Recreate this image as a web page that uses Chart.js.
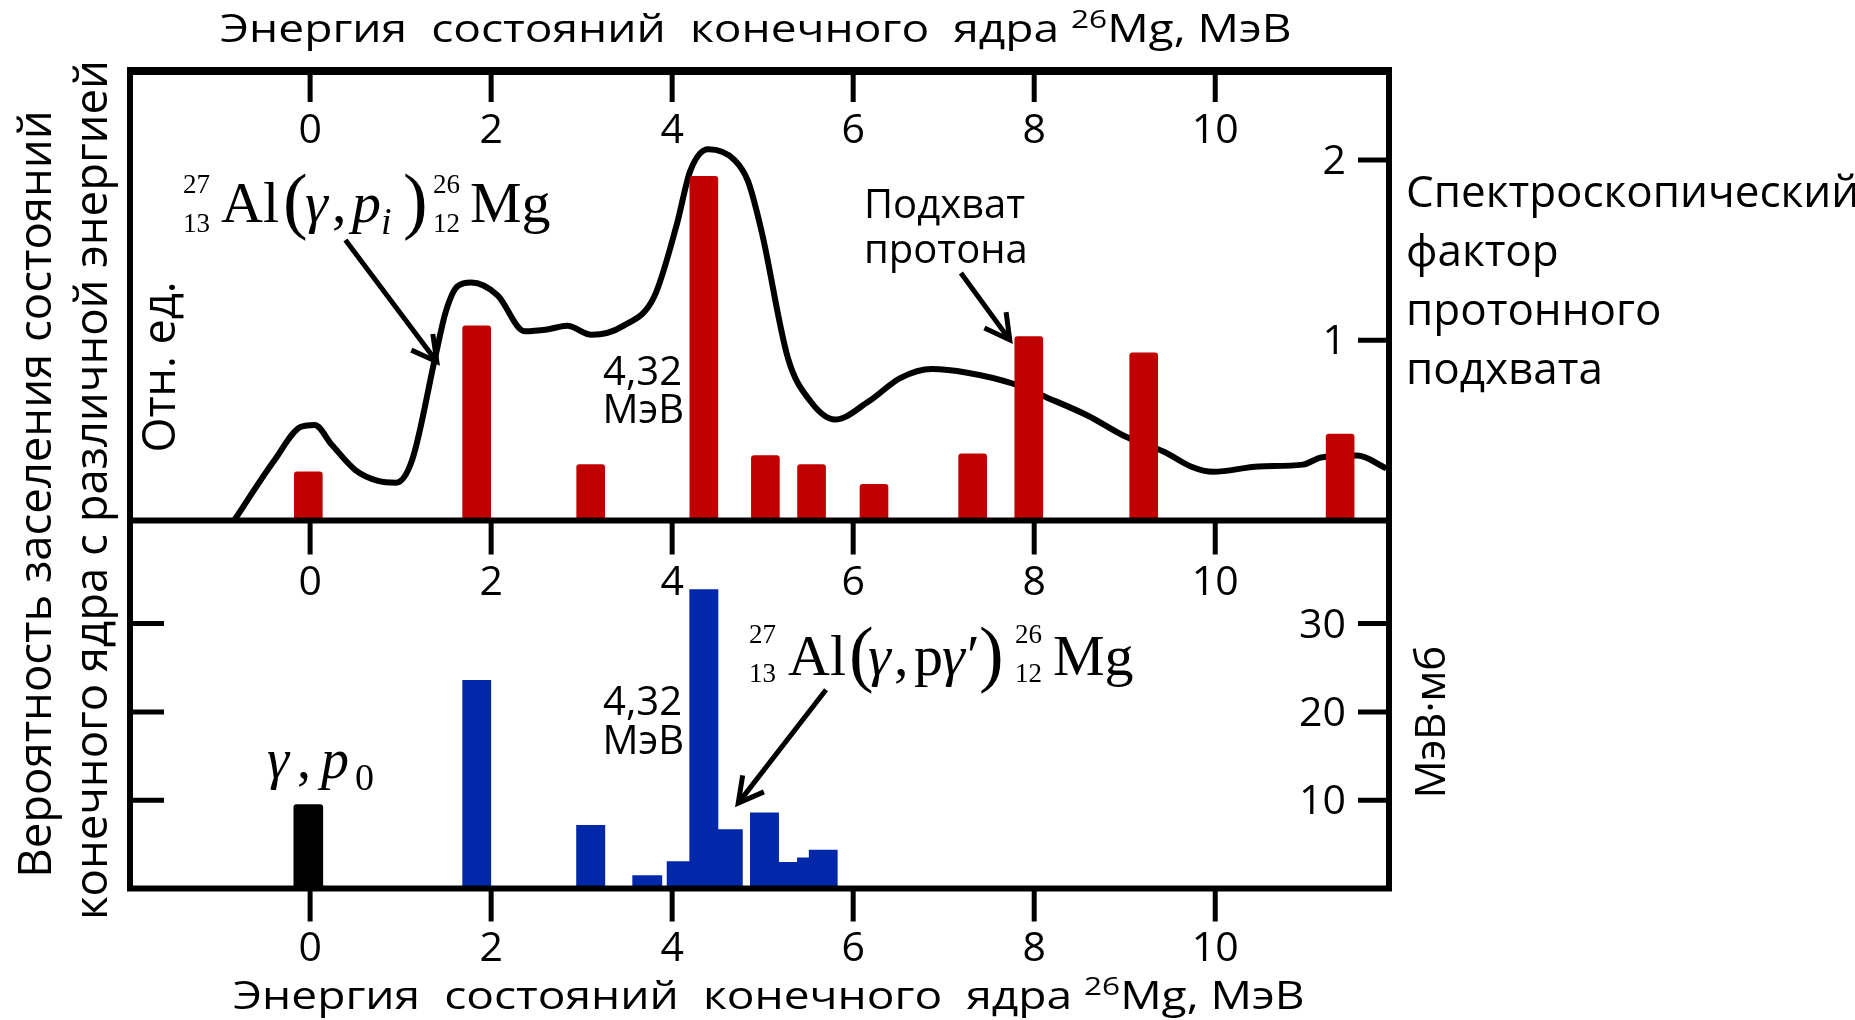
<!DOCTYPE html>
<html><head><meta charset="utf-8">
<script src="https://cdn.jsdelivr.net/npm/chart.js@4.4.0/dist/chart.umd.min.js"></script>
<style>html,body{margin:0;padding:0;background:#fff;overflow:hidden}
#wrap{position:relative;width:1855px;height:1020px}
canvas{position:absolute;left:0;top:0}</style></head>
<body><div id="wrap"><canvas id="c" width="1855" height="1020"></canvas></div>
<script>
// ---------------- data ----------------
const xTickValues = [0, 2, 4, 6, 8, 10];
const topYTickValues = [1, 2];
const bottomYTickValues = [10, 20, 30];

// spectroscopic factor of proton pickup (red bars), energy in MeV
const redEnergies = [-0.02, 1.84, 3.10, 4.35, 5.03, 5.54, 6.23, 7.32, 7.94, 9.21, 11.38];
const redFactors  = [0.27, 1.08, 0.31, 1.91, 0.36, 0.31, 0.20, 0.37, 1.02, 0.93, 0.48];

// (γ,p_i) relative population curve
const curveEnergies = [-0.84, -0.40, -0.10, 0.05, 0.24, 0.50, 0.75, 0.95, 1.13, 1.38, 1.50, 1.63, 1.78, 2.07, 2.37, 2.62, 2.84, 3.11, 3.46, 3.80, 4.05, 4.20, 4.40, 4.69, 4.84, 4.99, 5.28, 5.53, 5.80, 6.17, 6.52, 6.87, 7.26, 7.76, 8.15, 8.60, 8.99, 9.44, 9.73, 9.98, 10.48, 10.97, 11.17, 11.57, 11.89];
const curveValues   = [0.00, 0.33, 0.52, 0.53, 0.42, 0.28, 0.22, 0.21, 0.34, 0.90, 1.16, 1.30, 1.32, 1.25, 1.05, 1.06, 1.08, 1.03, 1.08, 1.24, 1.64, 1.94, 2.06, 2.00, 1.88, 1.60, 0.90, 0.66, 0.56, 0.66, 0.79, 0.84, 0.82, 0.76, 0.68, 0.58, 0.47, 0.38, 0.30, 0.27, 0.30, 0.31, 0.35, 0.36, 0.29];

// γ,p0 (black bar), MeV·mb
const p0Energies = [-0.02];
const p0Values   = [9.5];

// (γ,pγ') bins (blue), MeV edges and MeV·mb
const blueLeft   = [1.68, 2.94, 3.56, 3.94, 4.19, 4.51, 4.86, 5.18, 5.38, 5.51];
const blueRight  = [2.00, 3.26, 3.89, 4.19, 4.51, 4.78, 5.18, 5.38, 5.51, 5.83];
const blueValues = [23.6, 7.2, 1.5, 3.1, 33.9, 6.7, 8.6, 3.0, 3.5, 4.4];

// ---------------- build ----------------
const redData = redEnergies.map((e, i) => ({x: e, y: redFactors[i]}));
const curveData = curveEnergies.map((e, i) => ({x: e, y: curveValues[i]}));
const p0Data = p0Energies.map((e, i) => ({x: e, y: p0Values[i]}));
const blueData = [];
blueLeft.forEach((l, i) => {
  const r = blueRight[i], v = blueValues[i];
  blueData.push({x: l, y: 0}, {x: l, y: v}, {x: r, y: v}, {x: r, y: 0});
});

const SANS = '"Open Sans", "Noto Sans", sans-serif';
const SERIF = '"Liberation Serif", "DejaVu Serif", serif';
const RED = '#C00000', BLUE = '#0028A8';

function arrow(ctx, x1, y1, x2, y2) {
  const ang = Math.atan2(y2 - y1, x2 - x1), L = 28, w = 0.5;
  ctx.beginPath();
  ctx.moveTo(x1, y1); ctx.lineTo(x2, y2);
  ctx.moveTo(x2 - L * Math.cos(ang - w), y2 - L * Math.sin(ang - w));
  ctx.lineTo(x2, y2);
  ctx.lineTo(x2 - L * Math.cos(ang + w), y2 - L * Math.sin(ang + w));
  ctx.stroke();
}
function txt(ctx, s, x, y, font, align) {
  ctx.font = font; ctx.textAlign = align || 'left'; ctx.textBaseline = 'alphabetic';
  ctx.fillText(s, x, y);
}
function rot(ctx, s, x, yc, font) {
  ctx.save(); ctx.translate(x, yc); ctx.rotate(-Math.PI / 2);
  ctx.font = font; ctx.textAlign = 'center'; ctx.textBaseline = 'alphabetic';
  ctx.fillText(s, 0, 0); ctx.restore();
}
// sequence of text runs with an optional horizontal stretch
function seq(ctx, x, y, sx, parts) {
  ctx.save(); ctx.translate(x, y); ctx.scale(sx, 1);
  let cx = 0;
  parts.forEach(p => {
    ctx.font = p.f; ctx.textAlign = 'left'; ctx.textBaseline = 'alphabetic';
    ctx.fillText(p.t, cx, (p.dy || 0));
    cx += ctx.measureText(p.t).width;
  });
  ctx.restore();
}

const overlay = {
  id: 'overlay',
  afterDatasetsDraw(chart) {
    const {ctx, chartArea: a, scales} = chart;
    const X = scales.x, YT = scales.yTop, YB = scales.yBot;
    const yDiv = YT.getPixelForValue(0);
    ctx.save();
    ctx.strokeStyle = '#000'; ctx.fillStyle = '#000'; ctx.lineCap = 'butt';
    // ticks
    ctx.lineWidth = 5;
    ctx.beginPath();
    xTickValues.forEach(v => {
      const px = X.getPixelForValue(v);
      ctx.moveTo(px, a.top); ctx.lineTo(px, a.top + 31);
      ctx.moveTo(px, yDiv); ctx.lineTo(px, yDiv + 34);
      ctx.moveTo(px, a.bottom); ctx.lineTo(px, a.bottom + 33);
    });
    topYTickValues.forEach(v => {
      const py = YT.getPixelForValue(v);
      ctx.moveTo(a.right, py); ctx.lineTo(a.right - 31, py);
    });
    bottomYTickValues.forEach(v => {
      const py = YB.getPixelForValue(v);
      ctx.moveTo(a.right, py); ctx.lineTo(a.right - 31, py);
      ctx.moveTo(a.left, py); ctx.lineTo(a.left + 34, py);
    });
    ctx.stroke();
    // frame
    ctx.lineWidth = 6;
    ctx.strokeRect(a.left, a.top, a.right - a.left, a.bottom - a.top);
    ctx.beginPath(); ctx.moveTo(a.left - 3, yDiv); ctx.lineTo(a.right + 3, yDiv); ctx.stroke();
    ctx.lineWidth = 8;
    ctx.beginPath(); ctx.moveTo(a.left - 3, a.top); ctx.lineTo(a.right + 3, a.top); ctx.stroke();

    // tick labels
    const tf = '41px ' + SANS;
    xTickValues.forEach(v => {
      const px = X.getPixelForValue(v);
      txt(ctx, String(v), px, a.top + 72, tf, 'center');
      txt(ctx, String(v), px, yDiv + 74, tf, 'center');
      txt(ctx, String(v), px, a.bottom + 72, tf, 'center');
    });
    topYTickValues.forEach(v => txt(ctx, String(v), a.right - 43, YT.getPixelForValue(v) + 14, tf, 'right'));
    bottomYTickValues.forEach(v => txt(ctx, String(v), a.right - 43, YB.getPixelForValue(v) + 14, tf, 'right'));

    // axis titles
    const ttf = '38px ' + SANS;
    const title = [
      {t: 'Энергия  состояний  конечного  ядра ', f: ttf},
      {t: '26', f: '26px ' + SANS, dy: -14},
      {t: 'Mg, МэВ', f: ttf}
    ];
    seq(ctx, 220, 42, 1.214, title);
    seq(ctx, 233, 1009, 1.214, title);
    rot(ctx, 'Вероятность заселения состояний', 51, 494, '45.5px ' + SANS);
    rot(ctx, 'конечного ядра с различной энергией', 107, 490, '45.5px ' + SANS);
    rot(ctx, 'Отн. ед.', 175, 367, '45px ' + SANS);
    rot(ctx, 'МэВ·мб', 1445, 722, '42px ' + SANS);
    const rf = '44px ' + SANS;
    ['Спектроскопический', 'фактор', 'протонного', 'подхвата'].forEach((s, i) =>
      txt(ctx, s, 1406, 207 + i * 59, rf, 'left'));

    // annotations
    const af = '40px ' + SANS;
    txt(ctx, '4,32', 682, 385, af, 'right');
    txt(ctx, 'МэВ', 684, 423, af, 'right');
    txt(ctx, '4,32', 682, 715, af, 'right');
    txt(ctx, 'МэВ', 684, 754, af, 'right');
    txt(ctx, 'Подхват', 864, 218, af, 'left');
    txt(ctx, 'протона', 864, 263, af, 'left');

    // formulas
    const F = '58px ' + SERIF, FI = 'italic 58px ' + SERIF, FS = '27px ' + SERIF, FP = '74px ' + SERIF;
    txt(ctx, '27', 183, 193, FS); txt(ctx, '13', 183, 232, FS);
    txt(ctx, 'Al', 221, 222, F);
    txt(ctx, '(', 283, 225, FP);
    txt(ctx, 'γ', 305, 222, FI);
    txt(ctx, ',', 332, 222, F);
    txt(ctx, 'p', 352, 222, FI);
    txt(ctx, 'i', 381, 234, 'italic 38px ' + SERIF);
    txt(ctx, ')', 403, 225, FP);
    txt(ctx, '26', 433, 193, FS); txt(ctx, '12', 433, 232, FS);
    txt(ctx, 'Mg', 470, 222, F);

    txt(ctx, '27', 749, 643, FS); txt(ctx, '13', 749, 682, FS);
    txt(ctx, 'Al', 788, 675, F);
    txt(ctx, '(', 849, 678, FP);
    txt(ctx, 'γ', 868, 675, FI);
    txt(ctx, ',', 894, 675, F);
    txt(ctx, 'p', 914, 675, F);
    txt(ctx, 'γ', 942, 675, FI);
    txt(ctx, '′', 967, 675, F);
    txt(ctx, ')', 979, 678, FP);
    txt(ctx, '26', 1015, 643, FS); txt(ctx, '12', 1015, 682, FS);
    txt(ctx, 'Mg', 1053, 675, F);

    txt(ctx, 'γ', 267, 778, 'italic 56px ' + SERIF);
    txt(ctx, ',', 297, 778, '56px ' + SERIF);
    txt(ctx, 'p', 321, 778, 'italic 56px ' + SERIF);
    txt(ctx, '0', 355, 790, '38px ' + SERIF);

    // arrows (anchored in data coordinates)
    ctx.lineWidth = 5;
    arrow(ctx, X.getPixelForValue(0.39), YT.getPixelForValue(1.556), X.getPixelForValue(1.40), YT.getPixelForValue(0.881));
    arrow(ctx, X.getPixelForValue(7.19), YT.getPixelForValue(1.373), X.getPixelForValue(7.73), YT.getPixelForValue(1.002));
    arrow(ctx, X.getPixelForValue(5.70), YB.getPixelForValue(22.5), X.getPixelForValue(4.73), YB.getPixelForValue(9.67));
    ctx.restore();
  }
};

new Chart(document.getElementById('c'), {
  type: 'bar',
  data: {
    datasets: [
      {type: 'line', data: curveData, yAxisID: 'yTop', borderColor: '#000', borderWidth: 6,
       pointRadius: 0, cubicInterpolationMode: 'monotone', fill: false, order: 3},
      {type: 'bar', data: redData, yAxisID: 'yTop', backgroundColor: RED, barThickness: 28,
       grouped: false, borderRadius: 3, order: 1},
      {type: 'line', data: blueData, yAxisID: 'yBot', borderWidth: 0, borderColor: BLUE,
       backgroundColor: BLUE, pointRadius: 0, tension: 0, fill: 'origin', order: 2},
      {type: 'bar', data: p0Data, yAxisID: 'yBot', backgroundColor: '#000', barThickness: 29,
       grouped: false, borderRadius: 3, order: 1}
    ]
  },
  options: {
    responsive: false, animation: false, devicePixelRatio: 1,
    layout: {padding: {left: 130, top: 71, right: 466, bottom: 131.5}},
    plugins: {legend: {display: false}, tooltip: {enabled: false}, title: {display: false}},
    scales: {
      x: {type: 'linear', min: -1.99, max: 11.92, offset: false, display: false},
      yTop: {type: 'linear', min: -2.0416, max: 2.4938, display: false},
      yBot: {type: 'linear', min: 0, max: 92.58, display: false}
    }
  },
  plugins: [overlay]
});
</script></body></html>
